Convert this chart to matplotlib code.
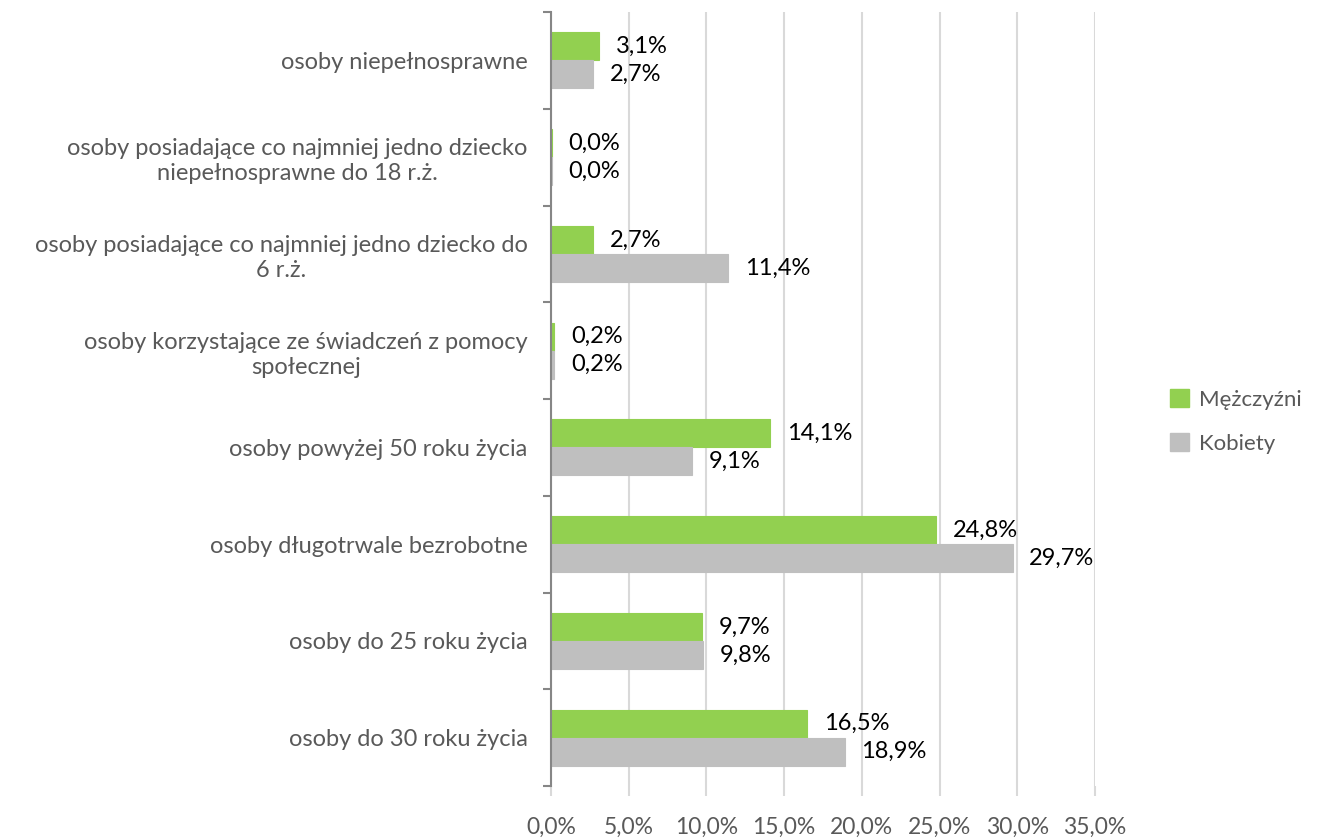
import matplotlib.pyplot as plt
import numpy as np
from matplotlib.patches import Patch

plt.rcParams['font.family'] = ['Lato', 'DejaVu Sans']

categories = ['osoby niepełnosprawne',
              'osoby posiadające co najmniej jedno dziecko\nniepełnosprawne do 18 r.ż.',
              'osoby posiadające co najmniej jedno dziecko do\n6 r.ż.',
              'osoby korzystające ze świadczeń z pomocy\nspołecznej',
              'osoby powyżej 50 roku życia',
              'osoby długotrwale bezrobotne',
              'osoby do 25 roku życia',
              'osoby do 30 roku życia']
men = [3.1, 0.04, 2.7, 0.2, 14.1, 24.8, 9.7, 16.5]
women = [2.7, 0.04, 11.4, 0.2, 9.1, 29.7, 9.8, 18.9]
xticks = [0, 5, 10, 15, 20, 25, 30, 35]

green = '#92d050'
grey = '#bfbfbf'
txt = '#595959'
fs = 17

fig = plt.figure(figsize=(13.17, 8.38), dpi=100)
ax = fig.add_axes([0.4184, 0.062, 0.4130, 0.9236])

y = np.arange(len(categories))
h = 0.29
bm = ax.barh(y - h / 2, men, height=h, color=green, edgecolor=green,
             linewidth=0.8, zorder=3)
bw = ax.barh(y + h / 2, women, height=h, color=grey, edgecolor=grey,
             linewidth=0.8, zorder=3)

for bars, vals in ((bm, men), (bw, women)):
    for b, v in zip(bars, vals):
        ax.annotate(f'{v:.1f}%'.replace('.', ','),
                    xy=(b.get_width(), b.get_y() + b.get_height() / 2),
                    xytext=(12, 0), textcoords='offset points',
                    ha='left', va='center', fontsize=fs, color='black')

ax.set_xlim(0, 35)
ax.set_ylim(len(categories) - 0.5, -0.5)
ax.set_xticks(xticks)
ax.set_xticklabels([f'{t:.1f}%'.replace('.', ',') for t in xticks])
ax.set_yticks(y)
ax.set_yticklabels(categories, multialignment='center', linespacing=1.25)
ax.set_yticks(np.arange(-0.5, len(categories)), minor=True)

ax.grid(axis='x', color='#d9d9d9', linewidth=1.5, zorder=0)
for s in ['top', 'right', 'bottom']:
    ax.spines[s].set_visible(False)
ax.spines['left'].set_color('#868686')
ax.spines['left'].set_linewidth(1.5)
ax.spines['left'].set_zorder(4)

ax.tick_params(axis='y', which='major', length=0, pad=17, labelsize=fs, labelcolor=txt)
ax.tick_params(axis='y', which='minor', length=6, width=1.5, color='#868686')
ax.tick_params(axis='x', length=7, width=1.5, color='#d9d9d9', pad=15,
               labelsize=16.5, labelcolor=txt)

handles = [Patch(color=green, label='Mężczyźni'), Patch(color=grey, label='Kobiety')]
fig.legend(handles=handles, loc='center left', bbox_to_anchor=(0.873, 0.497),
           frameon=False, fontsize=16, labelcolor=txt, handlelength=0.85,
           handleheight=0.85, handletextpad=0.45, labelspacing=1.05)

fig.savefig('out.png', dpi=100)
